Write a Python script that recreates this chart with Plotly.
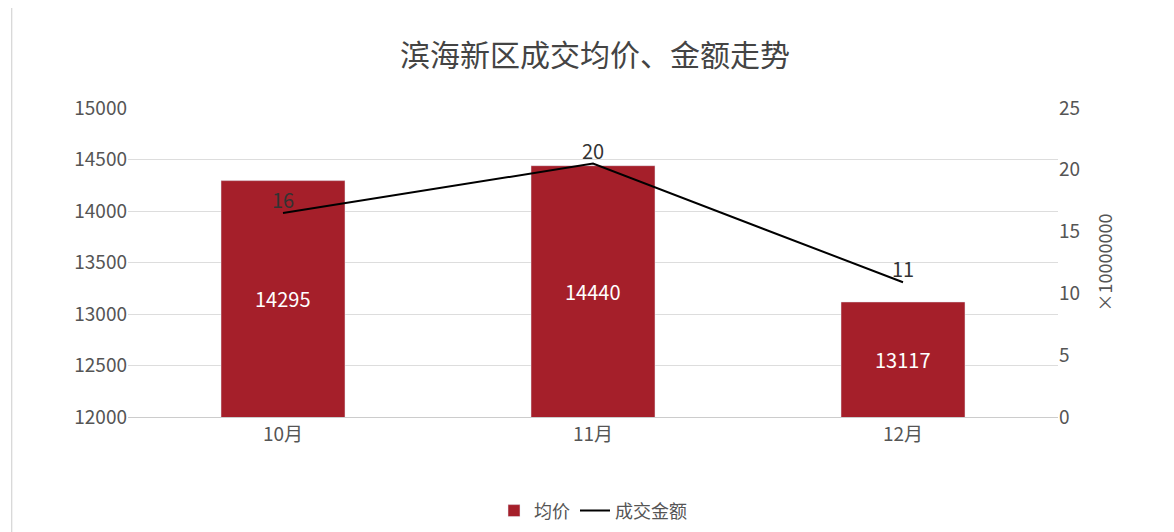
import plotly.graph_objects as go

months = ["10月", "11月", "12月"]
avg_price = [14295, 14440, 13117]
amount = [16.5, 20.5, 10.9]
amount_labels = ["16", "20", "11"]

font = "Noto Sans CJK SC"
fig = go.Figure()
fig.add_trace(go.Bar(x=months, y=avg_price, name="均价", marker_color="#A51F2A", width=0.4))
fig.add_trace(go.Scatter(x=months, y=amount, name="成交金额", yaxis="y2", mode="lines+text",
                         line=dict(color="black", width=2), text=amount_labels,
                         textposition="top center", textfont=dict(size=20, color="#333", family=font)))
for m, v in zip(months, avg_price):
    fig.add_annotation(x=m, y=(12000 + v) / 2, text=str(v), showarrow=False,
                       font=dict(color="white", size=20, family=font))
fig.update_layout(
    width=1174, height=532, plot_bgcolor="white", paper_bgcolor="white",
    font=dict(family=font, color="#555", size=18),
    title=dict(text="滨海新区成交均价、金额走势", x=0.5, y=0.93, xanchor="center",
               font=dict(size=30, color="#444", family=font)),
    margin=dict(l=120, r=124, t=100, b=122),
    xaxis=dict(showline=True, linecolor="#ccc", tickfont=dict(size=19)),
    yaxis=dict(range=[12000, 15000], dtick=500, tickformat="d", gridcolor="#ddd", showline=False,
               tickfont=dict(size=19), zeroline=False),
    yaxis2=dict(range=[0, 25], dtick=5, overlaying="y", side="right", showgrid=False,
                tickfont=dict(size=19), title=dict(text="×10000000", font=dict(size=18), standoff=20)),
    legend=dict(orientation="h", x=0.5, xanchor="center", y=-0.24, yanchor="top", font=dict(size=18)),
    shapes=[dict(type="rect", xref="paper", yref="paper", x0=-0.125, x1=1.13, y0=-0.4, y1=1.33,
                 line=dict(color="#ccc", width=1))],
)
fig.write_html("out.html")
